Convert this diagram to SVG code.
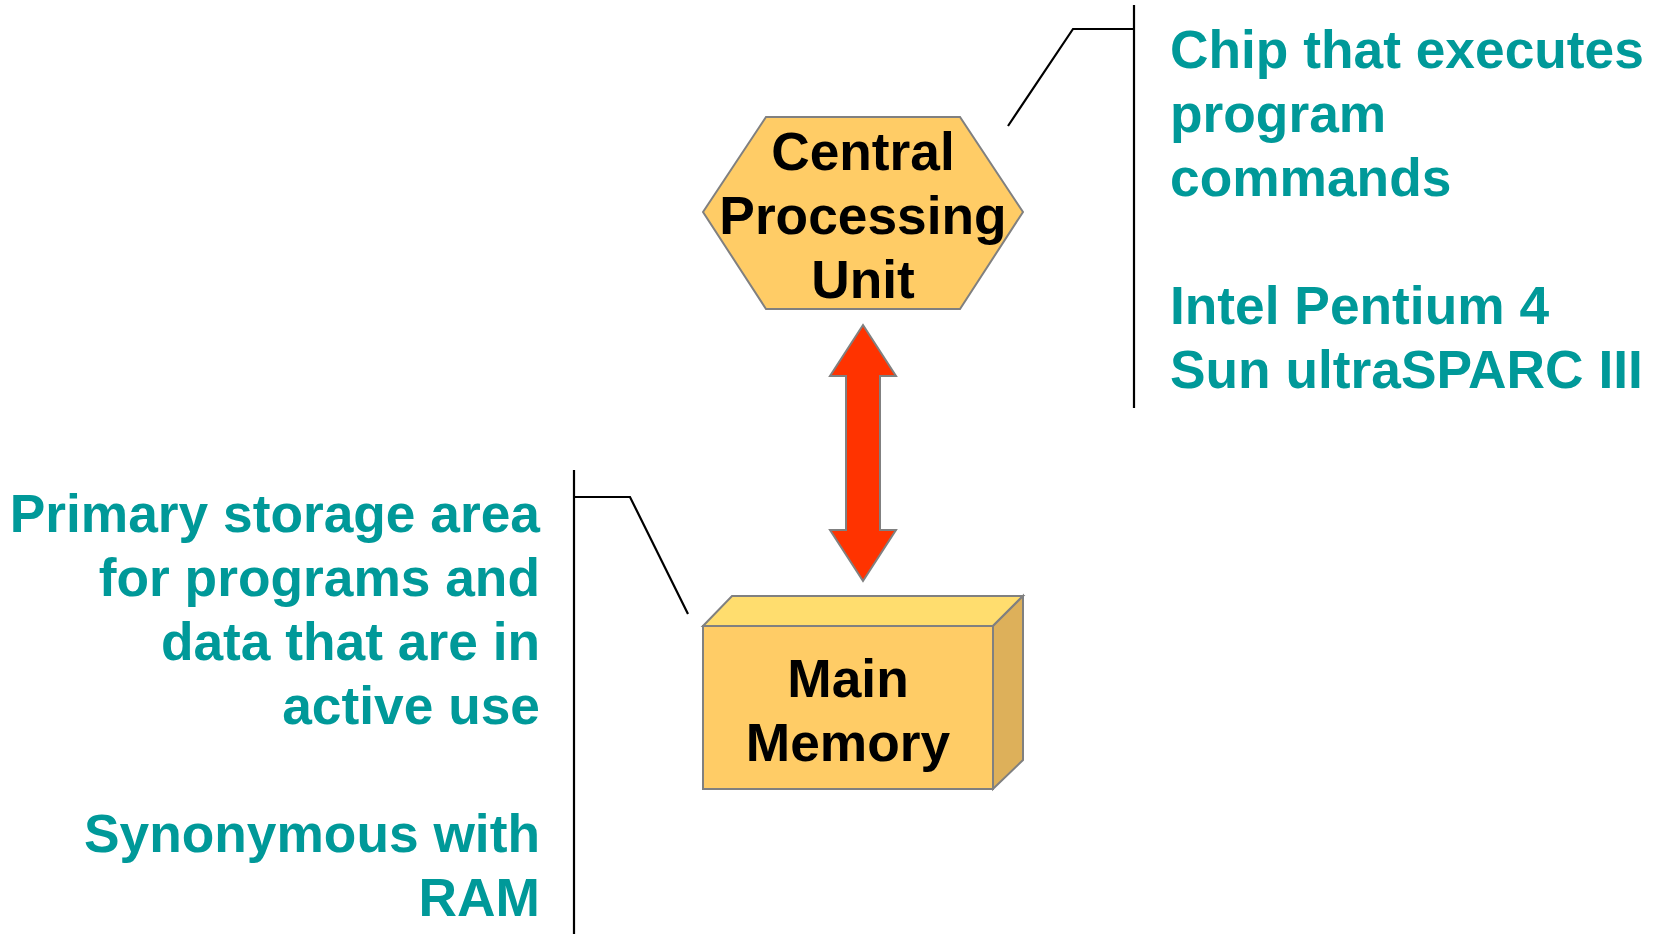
<svg xmlns="http://www.w3.org/2000/svg" width="1664" height="934" viewBox="0 0 1664 934">
  <style>
    .node-label { font-family: "Liberation Sans", Arial, sans-serif; font-weight: bold; font-size: 53.3px; fill: #000000; text-anchor: middle; }
    .note { font-family: "Liberation Sans", Arial, sans-serif; font-weight: bold; font-size: 53.3px; fill: #009999; }
    .callout { fill: none; stroke: #000000; stroke-width: 2.2; }
    .shape-edge { stroke: #808080; stroke-width: 2; stroke-linejoin: miter; }
  </style>
  <rect x="0" y="0" width="1664" height="934" fill="#ffffff"/>

  <!-- CPU node: hexagon -->
  <g id="cpu">
    <polygon class="shape-edge" fill="#FFCC66" points="703,212 766,117 960,117 1023,212 960,309 766,309"/>
    <text class="node-label" x="863" y="170">Central</text>
    <text class="node-label" x="863" y="234">Processing</text>
    <text class="node-label" x="863" y="298">Unit</text>
  </g>

  <!-- Main memory node: 3D box -->
  <g id="main-memory">
    <polygon class="shape-edge" fill="#FFDD6E" points="703,626 732,596 1023,596 993,626"/>
    <polygon class="shape-edge" fill="#DDB05A" points="993,626 1023,596 1023,760 993,789"/>
    <rect class="shape-edge" fill="#FFCC66" x="703" y="626" width="290" height="163"/>
    <text class="node-label" x="848" y="697">Main</text>
    <text class="node-label" x="848" y="761">Memory</text>
  </g>

  <!-- CPU description -->
  <g id="cpu-note">
    <text class="note" x="1170" y="68">Chip that executes</text>
    <text class="note" x="1170" y="132">program</text>
    <text class="note" x="1170" y="196">commands</text>
    <text class="note" x="1170" y="324">Intel Pentium 4</text>
    <text class="note" x="1170" y="388">Sun ultraSPARC III</text>
  </g>

  <!-- Memory description -->
  <g id="memory-note">
    <text class="note" x="540" y="532" text-anchor="end">Primary storage area</text>
    <text class="note" x="540" y="596" text-anchor="end">for programs and</text>
    <text class="note" x="540" y="660" text-anchor="end">data that are in</text>
    <text class="note" x="540" y="724" text-anchor="end">active use</text>
    <text class="note" x="540" y="852" text-anchor="end">Synonymous with</text>
    <text class="note" x="540" y="916" text-anchor="end">RAM</text>
  </g>

  <!-- Connectors -->
  <g id="connectors">
    <!-- bidirectional block arrow between CPU and memory -->
    <polygon class="shape-edge" fill="#FF3300" points="863,325 896,376 880,376 880,530 896,530 863,581 830,530 846,530 846,376 830,376"/>
    <!-- callout brackets -->
    <polyline class="callout" points="1008,126 1073,29 1134,29"/>
    <line class="callout" x1="1134" y1="5" x2="1134" y2="408"/>
    <polyline class="callout" points="688,614 630,497 574,497"/>
    <line class="callout" x1="574" y1="470" x2="574" y2="934"/>
  </g>
</svg>
